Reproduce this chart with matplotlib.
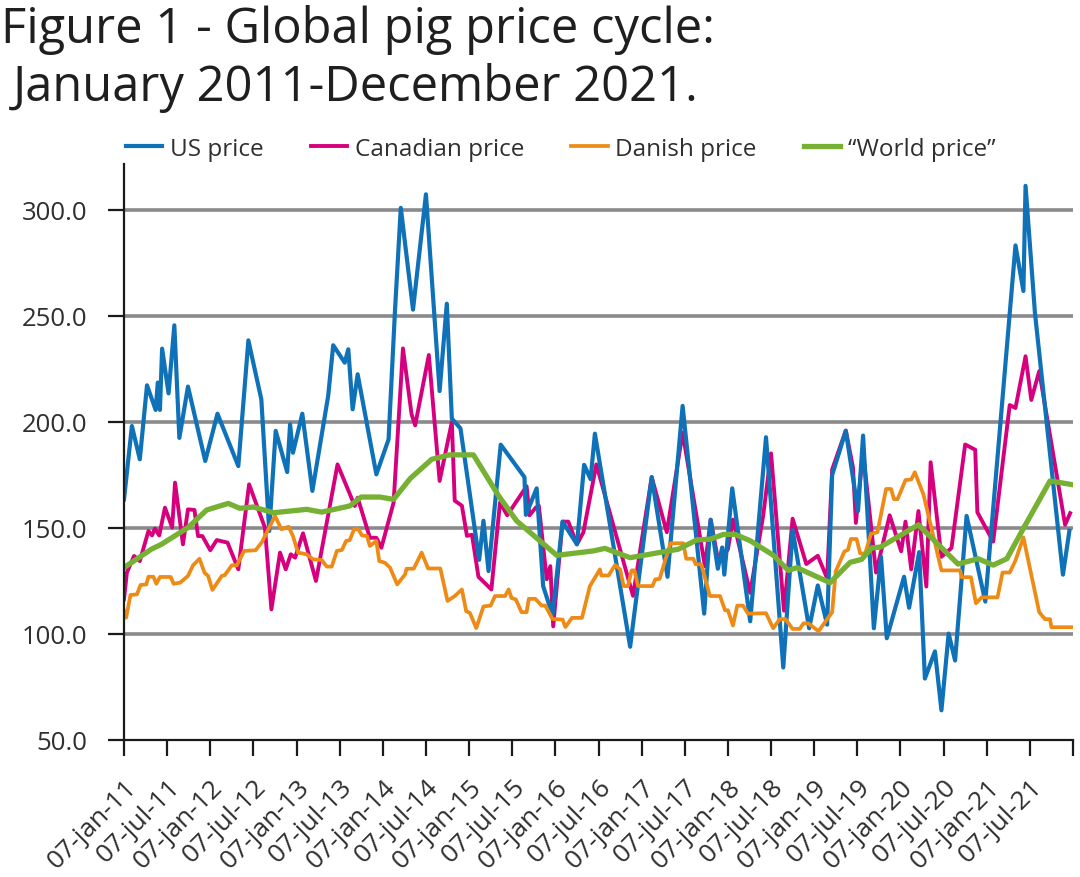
import matplotlib
matplotlib.use("Agg")
import matplotlib.pyplot as plt

TITLE_1 = "Figure 1 - Global pig price cycle:"
TITLE_2 = "January 2011-December 2021."
X_TICK_LABELS = ["07-jan-11","07-jul-11","07-jan-12","07-jul-12","07-jan-13","07-jul-13","07-jan-14","07-jul-14",
                 "07-jan-15","07-jul-15","07-jan-16","07-jul-16","07-jan-17","07-jul-17","07-jan-18","07-jul-18",
                 "07-jan-19","07-jul-19","07-jan-20","07-jul-20","07-jan-21","07-jul-21",""]
Y_TICKS = [50, 100, 150, 200, 250, 300]

US_M = [0,1.1,2.2,3.2,4.4,4.7,5.0,5.3,6.2,7.0,7.7,8.9,11.3,13.0,15.9,17.3,19.1,20.2,21.1,22.7,23.1,23.5,24.8,26.2,28.4,29.1,30.7,31.2,31.8,32.5,35.1,36.8,37.7,38.5,40.2,42,43.9,44.9,
        45.6,46.8,49.4,50,50.7,52.4,55.7,55.9,57.4,58.3,59.6,61,63,64,64.9,65.5,70.4,73.4,75.6,77.7,80.7,81.6,82.6,83.2,83.5,84.6,87.1,89.3,
        91.7,93,95.3,96.5,97.8,98.5,100.4,102.1,102.8,104.3,105.3,106.1,108.5,109.2,110.6,111.4,112.8,113.7,114.7,115.6,117.2,119.8,124,125.1,125.4,126.7,130.6,131.5]
US_V = [163.5,198.1,182.4,217.3,205.7,218.6,205.7,234.6,213.5,245.6,192.5,216.7,181.6,203.9,179.2,238.5,210.7,148.6,195.8,176.4,198.9,185.5,203.9,167.5,212.3,236.2,228,234.3,206,222.5,175.3,191.8,253,301,253,307.4,214.6,255.8,
        201.6,197,135,153.4,129.7,189.3,174,156.2,168.7,122.6,109,153,142.3,179.8,173,194.5,94,174,127,207.6,109.6,153.9,130.8,140.8,128,168.7,106,192.8,
        84.2,149,102.7,122.9,104.4,175,195.8,158,193.6,102.7,136.4,98,127,112.4,138.6,79,91.8,64,100.2,87.5,155.7,115.3,283.3,261.8,311.4,251.7,128,148.7]

CA_M = [0,0.4,1.4,2.2,3.4,3.9,4.3,4.9,5.7,6.7,7.1,8.2,8.9,9.8,10.3,10.9,12,12.9,14.4,15.9,17.4,19.6,20.5,21.7,22.5,23.2,23.8,24.9,26.7,29.7,32.1,32.5,34.2,35.1,35.8,37.5,38.8,40,40.5,42.4,43.9,
        45.6,46.0,47,47.7,48.4,49.3,51.1,52.3,53.3,56,56.4,57.3,57.7,58.8,59.3,59.7,61,61.8,63,63.9,65.7,70.8,73.4,75.5,77.7,80.8,81.6,82.7,84,84.7,87.1,88.9,
        90,91.8,93,94.9,96.5,97.8,98.5,100.4,101.4,101.8,102.8,104.6,106.5,108.1,108.7,109.5,110.5,111.6,112.2,113.7,115.1,117,118.4,118.7,120.9,123.2,124,125.4,126.2,127.3,130.9,131.6]
CA_V = [116.4,129,136.8,134.4,148.6,146.5,149.7,146.5,159.6,150.2,171.4,142.3,158.8,158.5,146.2,146.2,139.5,144.3,143.1,130.5,170.6,150.2,111.6,138.4,130.5,137.6,136,147.5,125,180,160.4,164.3,145.4,145.4,140.7,162,234.7,203.6,198.4,231.6,172.2,
        200,162.9,160.5,146.3,146.8,127,121,162,156,169.7,156,159.7,160.5,125.8,132,103.6,153,153,142.3,148,180,118,174,148,195,132,153.9,133.6,140,154,119.4,155.7,
        185.2,111,154.4,133,136.9,126.3,177.6,196,178.5,152.4,186,129,156,139,153,130.5,158,122.4,181,136.4,140.6,189.4,186.9,157.4,143.6,208,206.6,231,210.4,224,151.5,157]

DK_M = [0,0.3,0.9,1.8,2.3,3.1,3.4,4.1,4.5,5,6.5,6.9,7.8,8.9,9.6,10.5,11.2,11.7,12.3,13.6,14,15,15.7,16.7,18.3,19.2,21,21.9,22.9,23.5,24.2,25.4,26.3,27.5,28.2,28.9,29.6,30.3,30.9,31.4,32,32.6,33.1,33.8,34.2,35.1,35.5,36.3,37,38,39.1,39.3,40.3,41.4,42.3,44,45,
        46,47,47.6,48.1,49,50,51,51.6,53,53.5,53.9,54.5,55.3,56,56.3,57.2,58.1,58.6,59.6,61,61.4,62.3,63.7,64.8,66.2,66.4,67.4,68.3,69,69.5,70.1,70.6,71,71.5,73.5,73.9,74.5,76,77.8,78.2,79.2,79.5,80.3,81.5,82.9,83.6,84,84.7,85.3,86.1,86.8,89.3,
        90.3,91.2,92,93,94,94.5,95.2,96.6,98.5,99,100.2,100.7,101.1,101.9,102.4,103.1,103.9,104.8,106,106.7,107.1,107.6,108.7,109.5,110,111.2,113.7,116.3,116.5,117.8,118.5,119.3,121.5,122.2,123.2,124,125.1,127.3,128.1,128.8,129,132]
DK_V = [110.9,107.7,118.4,118.7,123.1,123.4,127,127,123.7,126.9,126.9,123.7,124.2,127.4,132.4,135.5,128.9,127.4,120.8,127.4,127.7,132.4,132.4,139.2,139.5,143.4,155.7,149.4,150.6,146.2,138.4,137.6,135.2,134.9,131.8,131.8,139.2,139.6,143.9,144.3,149.4,149.4,146.5,146.2,141.5,143.9,134.4,133.6,131.3,123.4,128.1,130.8,130.8,138.4,130.9,130.9,115.6,
        117.9,121,110.7,110,102.8,113,113.4,117.9,117.9,121,117,116.3,110.3,110.3,116.6,116.6,113.4,113.4,107.1,106.8,103.3,107.6,107.6,122.6,130.5,127.6,127.6,132.5,130.5,122.6,122.6,130,130,122.6,122.6,125.8,126,142.8,142.8,135.5,135.5,132.9,132.9,117.9,117.9,111.2,111.2,104,113.4,113.4,109.6,109.8,
        102.7,107,107,102.4,102.4,105,105,101.3,110.3,129.6,138.9,139.7,144.8,144.8,138,138,147.3,148,168.4,168.4,163.6,163.6,172.6,172.9,176.3,165.8,130,130,126.8,126.8,114.5,117.3,117.3,129,129,134.7,145.6,110.3,107,107,103.2,103.2]

WORLD_M = [0,3.8,5.2,8.9,11.5,14.5,16.1,18,20.8,25.4,27.5,31.4,33,35.6,37.5,39.8,42.8,45.3,48.6,52.1,54.6,60.2,65.3,66.9,70.4,77.1,79.7,81.5,83.4,85,87.1,90.3,92.4,93.6,98.2,101,102.6,104,105.2,110.5,116,118.8,120.9,122.8,125.1,128.8,132]
WORLD_V = [131.3,140,142.3,150.2,158.5,161.6,159.3,159.9,157.2,158.8,157.5,160.4,164.6,164.6,163.5,173.3,182.4,184.5,184.5,165.2,153.4,137.1,139.2,140.4,136,140,144.4,144.7,147,147,144,137.2,130,131.3,124.2,133.8,135.2,140.6,141,151.5,133,135.5,132.5,135.5,149.8,172.2,170.4]

plt.rcParams["font.family"] = ["Open Sans", "DejaVu Sans"]
TXT = "#2f2f2f"

fig = plt.figure(figsize=(10.8, 8.78), dpi=100)
ax = fig.add_axes([124/1080, 1-741/878, (1073-124)/1080, (741-165)/878])

ax.plot(CA_M, CA_V, color="#D6007F", lw=2.8, zorder=3, solid_joinstyle="round", label="Canadian price")
ax.plot(US_M, US_V, color="#0F72B8", lw=3.0, zorder=4, solid_joinstyle="round", label="US price")
ax.plot(DK_M, DK_V, color="#EE8B17", lw=2.7, zorder=5, solid_joinstyle="round", label="Danish price")
ax.plot(WORLD_M, WORLD_V, color="#76B133", lw=3.8, zorder=6, solid_joinstyle="round", label="\u201cWorld price\u201d")

ax.set_xlim(0, 132)
ax.set_ylim(50, 50 + (741-165)/2.12)
ax.set_xticks(list(range(0, 133, 6)))
ax.set_xticklabels(X_TICK_LABELS, rotation=45, ha="right", rotation_mode="anchor", fontsize=19, color=TXT)
ax.set_yticks(Y_TICKS)
ax.set_yticklabels([f"{v:.1f}" for v in Y_TICKS], fontsize=18.5, color=TXT)
ax.tick_params(axis="both", length=11.5, width=1.6, color="#1a1a1a")
ax.tick_params(axis="x", pad=13)
ax.tick_params(axis="y", pad=15)
for s in ("top", "right"):
    ax.spines[s].set_visible(False)
for s in ("left", "bottom"):
    ax.spines[s].set_linewidth(1.6)
    ax.spines[s].set_color("#1a1a1a")
    ax.spines[s].set_zorder(8)
ax.grid(False)
for v in Y_TICKS[1:]:
    ax.axhline(v, color="#8A8A8C", lw=2.6, zorder=1)

handles, labels = ax.get_legend_handles_labels()
order = [1, 0, 2, 3]
leg = ax.legend([handles[i] for i in order], [labels[i] for i in order], ncol=4, frameon=False,
          loc="center left", fontsize=17.5, labelcolor=TXT, handlelength=1.5, handletextpad=0.3, columnspacing=1.95,
          borderpad=0, borderaxespad=0, bbox_to_anchor=(126/1080, 1-150/878), bbox_transform=fig.transFigure)

fig.text(1/1080, 1-30/878, TITLE_1, fontsize=35.2, color="#1f1f1f", va="center", ha="left")
fig.text(13/1080, 1-88/878, TITLE_2, fontsize=35.2, color="#1f1f1f", va="center", ha="left")

fig.savefig("out.png", dpi=100)
